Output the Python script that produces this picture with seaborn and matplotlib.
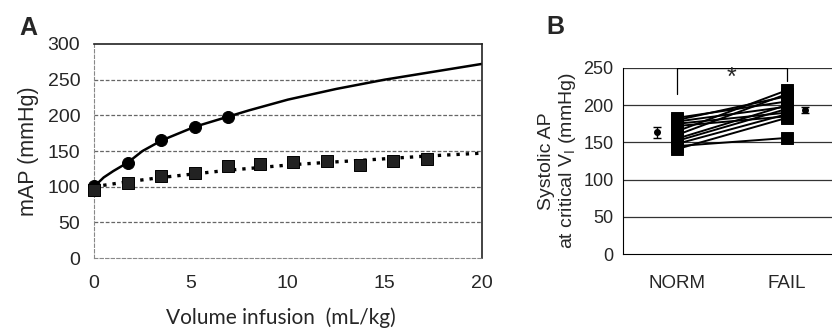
import numpy as np
import pandas as pd
import seaborn as sns
import matplotlib.pyplot as plt

# panel A: mean arterial pressure vs infused volume
vol_norm = [0, 1.75, 3.47, 5.2, 6.9]
map_norm = [101, 133, 165, 184, 198]
vol_fail = [0, 1.75, 3.47, 5.2, 6.9, 8.58, 10.28, 12.0, 13.7, 15.4, 17.2]
map_fail = [95, 105, 115, 119, 129, 132, 134, 136, 131, 136, 139]

# fitted curves
fit_norm_x = [0, 0.5, 1, 1.75, 2.5, 3.5, 5.2, 6.9, 8, 10, 12.5, 15, 17.5, 20]
fit_norm_y = [100, 113, 122, 134, 150, 165, 184, 198, 207, 222, 237, 250, 261, 272]
fit_fail_x = [0, 1.75, 3.5, 5.2, 6.9, 8.6, 10.3, 12, 13.8, 15.5, 17.2, 20]
fit_fail_y = [100, 107, 113, 118, 123, 127, 131, 134, 137, 140, 143, 147]

# panel B: systolic AP at critical Vi, paired subjects
groups = ['NORM', 'FAIL']
sap_norm = [183, 180, 178, 175, 172, 165, 160, 155, 152, 148, 145, 141]
sap_fail = [205, 212, 198, 190, 185, 220, 215, 200, 195, 188, 156, 183]
group_mean = [163.5, 193.5]
group_sem = [7.5, 4.5]

sns.set_style('white')
plt.rcParams['font.family'] = ['Liberation Sans', 'DejaVu Sans']

fig = plt.figure(figsize=(8.32, 3.33), dpi=100)
axA = fig.add_axes([0.113, 0.225, 0.466, 0.643])
axB = fig.add_axes([0.749, 0.237, 0.251, 0.559])

# ---- panel A ----
for y in [50, 100, 150, 200, 250]:
    axA.axhline(y, color='#666666', lw=0.9, ls=(0, (3, 1.5)), zorder=0)
axA.plot(fit_norm_x, fit_norm_y, color='black', lw=1.8, zorder=2)
axA.plot(fit_fail_x, fit_fail_y, color='black', lw=2.4, ls=(0, (1, 1.8)), zorder=2)
sns.scatterplot(x=vol_norm, y=map_norm, ax=axA, marker='o', s=75, color='black',
                edgecolor='black', zorder=3, clip_on=False)
sns.scatterplot(x=vol_fail, y=map_fail, ax=axA, marker='s', s=75, color='#222222',
                edgecolor='black', zorder=3, clip_on=False)
axA.set_xlim(0, 20)
axA.set_ylim(0, 300)
axA.set_xticks([0, 5, 10, 15, 20])
axA.set_yticks(range(0, 301, 50))
axA.tick_params(axis='both', labelsize=14, length=4, width=0.8, color='#777777')
axA.tick_params(axis='x', pad=10, direction='inout')
axA.tick_params(axis='y', pad=6)
for side in ['top', 'right']:
    axA.spines[side].set_color('#222222')
    axA.spines[side].set_linewidth(1.2)
for side in ['left', 'bottom']:
    axA.spines[side].set_color('#888888')
    axA.spines[side].set_linewidth(0.8)
    axA.spines[side].set_linestyle((0, (3, 2)))
axA.set_ylabel('mAP (mmHg)', fontsize=15.5, labelpad=6)
fig.text(0.337, 0.045, 'Volume infusion  (mL/kg)', fontsize=15, family=['Lato', 'DejaVu Sans'],
         ha='center', va='center')
fig.text(0.034, 0.915, 'A', fontsize=18, fontweight='bold', ha='center', va='center')

# ---- panel B ----
df = pd.DataFrame({
    'subject': list(range(len(sap_norm))) * 2,
    'pos': [0] * len(sap_norm) + [1] * len(sap_fail),
    'sap': sap_norm + sap_fail,
})
for y in [50, 100, 150, 200, 250]:
    axB.axhline(y, color='#333333', lw=0.9, zorder=0)
sns.lineplot(data=df, x='pos', y='sap', units='subject', estimator=None, ax=axB,
             color='black', lw=1.4, zorder=2)
sns.scatterplot(data=df, x='pos', y='sap', ax=axB, marker='s', s=70, color='black',
                edgecolor='black', zorder=3)
axB.errorbar([-0.18, 1.16], group_mean, yerr=group_sem, fmt='o', color='black',
             ms=4, capsize=3, lw=1, zorder=3)
# significance bracket
axB.plot([0, 0, 1, 1], [215, 250, 250, 232], color='black', lw=0.9, zorder=2)
axB.text(0.5, 236, '*', fontsize=18, ha='center', va='center')
axB.set_xlim(-0.49, 1.41)
axB.set_ylim(0, 250)
axB.set_yticks(range(0, 251, 50))
axB.set_xticks([0.5])
axB.set_xticklabels([''])
axB.tick_params(axis='x', length=4, direction='out', width=0.9, color='black')
axB.tick_params(axis='y', labelsize=13, length=4, width=0.9, color='black', pad=3)
for i, g in enumerate(groups):
    axB.text(i, -0.16, g, transform=axB.get_xaxis_transform(), fontsize=13.5,
             ha='center', va='center')
axB.set_xlabel('')
axB.set_ylabel('Systolic AP\nat critical V$_\\mathregular{I}$ (mmHg)', fontsize=14,
               labelpad=4, linespacing=1.1)
axB.spines['top'].set_visible(False)
axB.spines['right'].set_visible(False)
axB.spines['left'].set_color('black')
axB.spines['bottom'].set_color('black')
fig.text(0.667, 0.918, 'B', fontsize=18, fontweight='bold', ha='center', va='center')

fig.savefig('out.png', dpi=100)
